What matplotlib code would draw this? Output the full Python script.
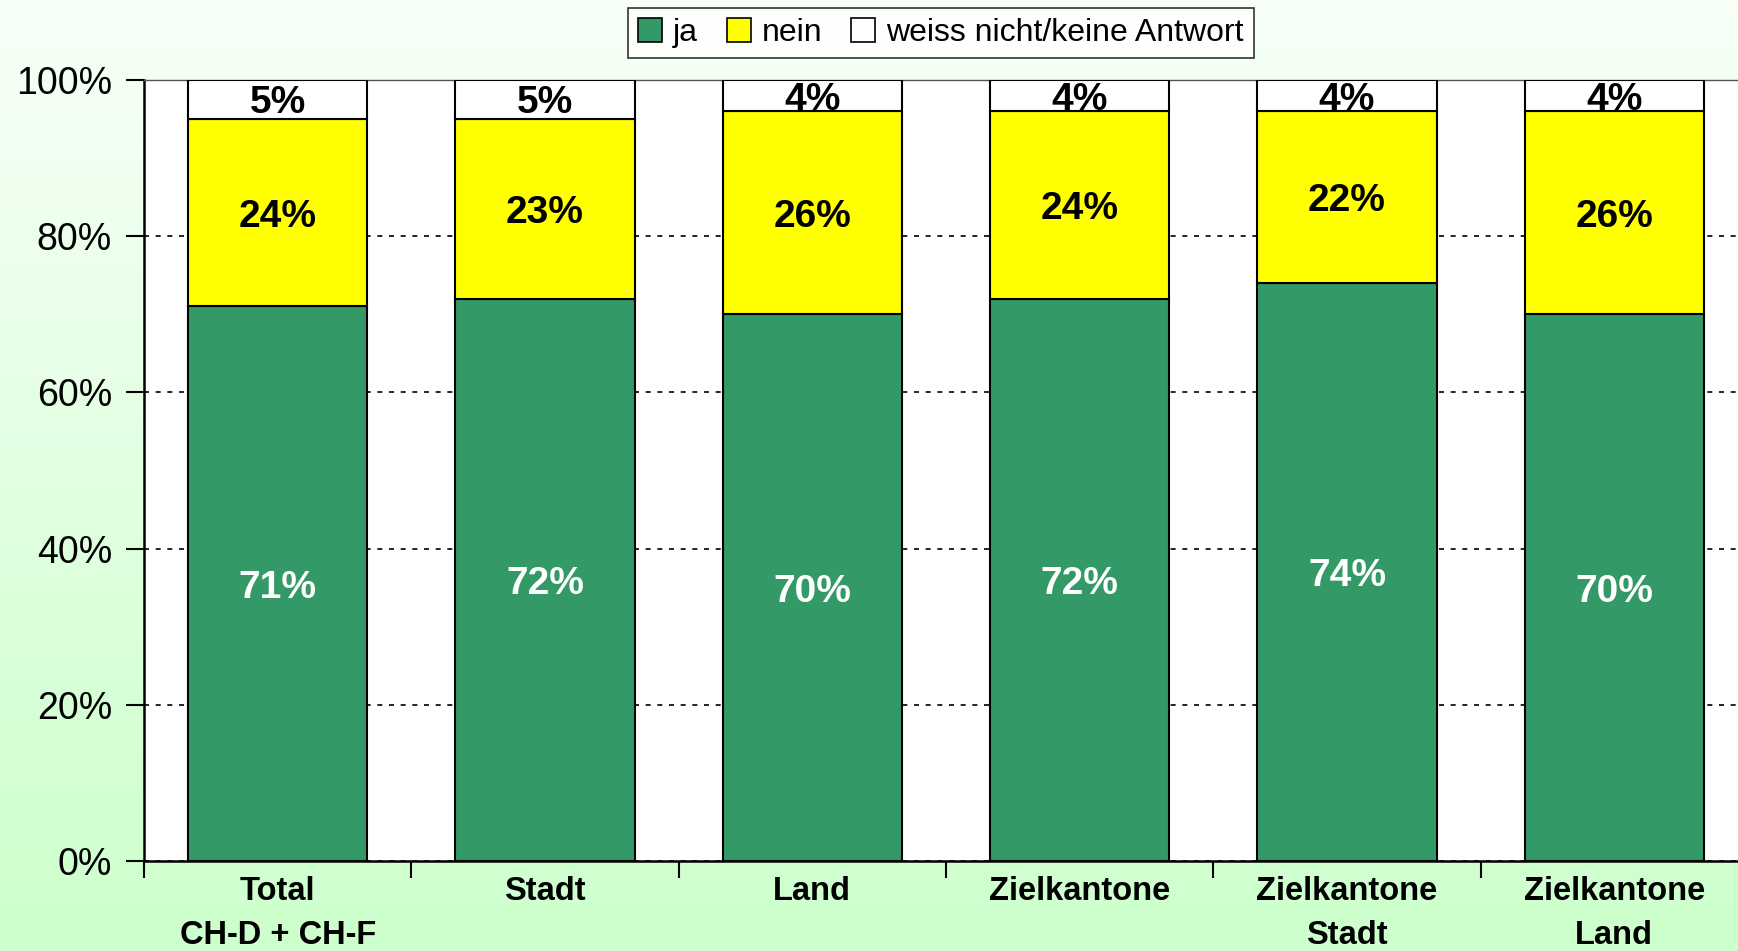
import numpy as np
import matplotlib.pyplot as plt
from matplotlib.patches import Patch

plt.rcParams['font.family'] = ['Liberation Sans', 'DejaVu Sans']

# data
categories = ['Total\nCH-D + CH-F', 'Stadt', 'Land', 'Zielkantone',
              'Zielkantone\nStadt', 'Zielkantone\nLand']
ja = [71, 72, 70, 72, 74, 70]
nein = [24, 23, 26, 24, 22, 26]
weiss = [5, 5, 4, 4, 4, 4]
series_names = ['ja', 'nein', 'weiss nicht/keine Antwort']
colors = ['#339966', '#ffff00', '#ffffff']
label_colors = ['white', 'black', 'black']

fig = plt.figure(figsize=(17.38, 9.51), dpi=100)

# light green vertical gradient background
bg = fig.add_axes([0, 0, 1, 1], zorder=-10)
grad = np.linspace(0, 1, 256).reshape(-1, 1)
top_c = np.array([0.97, 1.0, 0.97])
bot_c = np.array([0.80, 1.0, 0.80])
img = top_c * (1 - grad[..., None]) + bot_c * grad[..., None]
img = np.repeat(img, 2, axis=1)
bg.imshow(img, aspect='auto', extent=[0, 1, 0, 1])
bg.axis('off')

ax = fig.add_axes([144 / 1738, 90 / 951, 1604 / 1738, 781 / 951])
ax.set_facecolor('white')

x = np.arange(len(categories))
width = 0.67
bottom = np.zeros(len(categories))
for vals, c, lc in zip([ja, nein, weiss], colors, label_colors):
    vals = np.array(vals, dtype=float)
    ax.bar(x, vals, width, bottom=bottom, color=c, edgecolor='black',
           linewidth=1.5, zorder=3)
    for xi, b, v in zip(x, bottom, vals):
        ax.text(xi, b + v / 2 - 0.5, f'{int(v)}%', ha='center', va='center',
                fontsize=28, fontweight='bold', color=lc, zorder=4)
    bottom += vals

ax.set_xlim(-0.5, len(categories) - 0.5)
ax.set_ylim(0, 100)
ax.set_yticks(np.arange(0, 101, 20))
ax.set_yticklabels([f'{v}%' for v in range(0, 101, 20)], fontsize=27)
ax.yaxis.grid(True, linestyle=(0, (3, 4)), color='black', linewidth=1.2, zorder=0)

ax.set_xticks(np.arange(len(categories) + 1) - 0.5)
ax.set_xticklabels([])
ax.set_xticks(x, minor=True)
ax.set_xticklabels(categories, minor=True, fontsize=23.5, fontweight='bold',
                   linespacing=1.55)
ax.tick_params(axis='x', which='minor', length=0, pad=11)
ax.tick_params(axis='x', which='major', length=12, width=1.5, direction='out')
ax.tick_params(axis='y', length=13, width=1.5, direction='out', pad=10)

for s in ['left', 'bottom']:
    ax.spines[s].set_linewidth(1.8)
ax.spines['top'].set_color('#555555')
ax.spines['top'].set_linewidth(1)
ax.spines['right'].set_visible(False)

handles = [Patch(facecolor=c, edgecolor='black', linewidth=1.2) for c in colors]
leg = fig.legend(handles, series_names, loc='center', bbox_to_anchor=(941 / 1738, 1 - 33 / 951),
                 ncol=3, fontsize=23, frameon=True, fancybox=False,
                 handlelength=0.75, handleheight=0.75, handletextpad=0.35,
                 columnspacing=0.9, borderpad=0.3)
leg.get_frame().set_edgecolor('black')
leg.get_frame().set_linewidth(1.2)

fig.savefig('out.png', dpi=100)
